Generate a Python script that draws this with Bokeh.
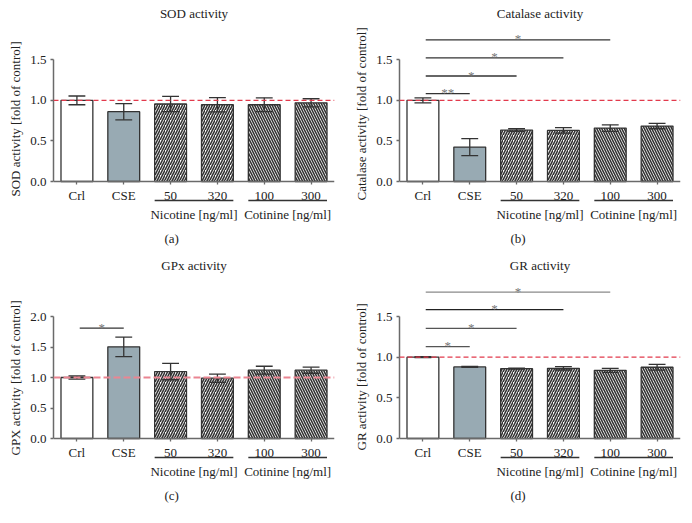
from bokeh.plotting import figure
from bokeh.models import (ColumnDataSource, FixedTicker, LinearAxis, Range1d, Span,
                          Title, NumeralTickFormatter)
from bokeh.layouts import row, column
from bokeh.embed import file_html
from bokeh.resources import INLINE
from bokeh.core.properties import value

# ---------------- data ----------------
categories = ["Crl", "CSE", "50", "320", "100", "300"]
group_labels = ["Nicotine [ng/ml]", "Cotinine [ng/ml]"]
group_members = [[2, 3], [4, 5]]

sod_mean = [1.0, 0.86, 0.955, 0.946, 0.946, 0.97]
sod_err = [0.054, 0.10, 0.095, 0.087, 0.085, 0.05]

cat_mean = [1.0, 0.424, 0.634, 0.63, 0.658, 0.683]
cat_err = [0.03, 0.105, 0.016, 0.035, 0.041, 0.033]
cat_sig_end = [1, 2, 3, 4]
cat_sig_height = [1.082, 1.30, 1.523, 1.745]
cat_sig_text = ["**", "*", "*", "*"]

gpx_mean = [1.0, 1.503, 1.098, 0.989, 1.12, 1.12]
gpx_err = [0.025, 0.16, 0.135, 0.068, 0.065, 0.05]
gpx_sig_end = [1]
gpx_sig_height = [1.809]
gpx_sig_text = ["*"]

gr_mean = [1.0, 0.88, 0.859, 0.863, 0.838, 0.876]
gr_err = [0.006, 0.006, 0.005, 0.021, 0.025, 0.035]
gr_sig_end = [1, 2, 3, 4]
gr_sig_height = [1.129, 1.353, 1.585, 1.80]
gr_sig_text = ["*", "*", "*", "*"]

control_level = 1.0

# ---------------- style ----------------
FONT = "Liberation Serif"
FS = "13px"
TXT = "#222222"
AXC = "#6a6a6a"
fills = ["#ffffff", "#98aab3", "#ffffff", "#ffffff", "#ffffff", "#ffffff"]
hatches = [" ", " ", "/", "/", "\\", "\\"]
BAR_W = 0.68
CAP = 0.18
SIG_START = 0.06


def style_axis(ax):
    ax.axis_line_color = AXC
    ax.axis_line_width = 1.5
    ax.major_tick_line_color = AXC
    ax.major_tick_line_width = 1.3
    ax.major_tick_in = 0
    ax.major_tick_out = 3
    ax.minor_tick_line_color = None
    ax.major_label_text_font = FONT
    ax.major_label_text_font_size = FS
    ax.major_label_text_color = TXT


def text_title(text, align, offset, standoff):
    return Title(text=text, align=align, offset=offset, standoff=standoff,
                 text_font=FONT, text_font_size=FS, text_color=TXT,
                 text_font_style="normal")


def make_panel(title, ylabel, ylabel_offset, means, errs, yticks, ytop, letter,
               frame_h, below_px, border_left, border_right, border_bottom,
               red, sig_end=None, sig_h=None, sig_txt=None, sig_colors=None):
    xs = list(range(len(categories)))
    # the frame spans from below_px pixels under zero up to ytop
    ppu = (frame_h - below_px) / ytop
    ybot = -below_px / ppu
    p = figure(frame_width=281, frame_height=frame_h,
               x_range=Range1d(-0.5, len(categories) - 0.5),
               y_range=Range1d(ybot, ytop),
               x_axis_type=None, y_axis_type=None,
               output_backend="svg", toolbar_location=None,
               min_border_left=border_left, min_border_right=border_right,
               min_border_top=5, min_border_bottom=border_bottom)
    p.outline_line_color = None
    p.background_fill_color = "white"
    p.border_fill_color = "white"

    p.title.text = title
    p.title.text_font = FONT
    p.title.text_font_size = FS
    p.title.text_font_style = "normal"
    p.title.text_color = TXT
    p.title.align = "center"
    p.title.vertical_align = "top"
    p.title.standoff = 10

    # y axis
    yax = LinearAxis(ticker=FixedTicker(ticks=yticks),
                     formatter=NumeralTickFormatter(format="0.0"),
                     bounds=(yticks[0], yticks[-1]))
    style_axis(yax)
    yax.major_label_standoff = 4
    p.add_layout(yax, "left")
    p.add_layout(text_title(ylabel, "left", ylabel_offset, 10), "left")

    # x axis with category labels, drawn at y = 0
    xax = LinearAxis(ticker=FixedTicker(ticks=xs), fixed_location=0,
                     major_label_overrides={i: c for i, c in enumerate(categories)})
    style_axis(xax)
    xax.major_label_standoff = 3
    p.add_layout(xax, "below")

    # group labels axis
    gcent = [sum(m) / len(m) for m in group_members]
    gax = LinearAxis(ticker=FixedTicker(ticks=gcent), fixed_location=-22 / ppu,
                     major_label_overrides={c: l for c, l in zip(gcent, group_labels)})
    style_axis(gax)
    gax.axis_line_color = None
    gax.major_tick_line_color = None
    gax.major_tick_out = 0
    gax.major_label_standoff = 3
    p.add_layout(gax, "below")

    # underlines under group labels
    usrc = ColumnDataSource(dict(
        x0=[min(m) - BAR_W / 2 for m in group_members],
        x1=[max(m) + BAR_W / 2 for m in group_members],
        y=[-19 / ppu] * len(group_members)))
    p.segment(x0="x0", y0="y", x1="x1", y1="y", source=usrc,
              line_color="#333333", line_width=1.3)

    # panel letter
    p.add_layout(text_title(letter, "left", 111, 5), "below")

    # bars
    src = ColumnDataSource(dict(x=xs, top=means, fill=fills, hatch=hatches,
                                lo=[m - e for m, e in zip(means, errs)],
                                hi=[m + e for m, e in zip(means, errs)],
                                xl=[x - CAP for x in xs], xr=[x + CAP for x in xs]))
    p.vbar(x="x", top="top", width=BAR_W, bottom=0, source=src,
           fill_color="fill", line_color="#333333", line_width=1.3,
           hatch_pattern="hatch", hatch_color="#333333", hatch_scale=5,
           hatch_weight=1.6)
    # error bars
    p.segment(x0="x", y0="lo", x1="x", y1="hi", source=src,
              line_color="#333333", line_width=1.3)
    p.segment(x0="xl", y0="hi", x1="xr", y1="hi", source=src,
              line_color="#333333", line_width=1.3)
    p.segment(x0="xl", y0="lo", x1="xr", y1="lo", source=src,
              line_color="#333333", line_width=1.3)

    # control reference line
    p.add_layout(Span(location=control_level, dimension="width",
                      line_color=red[0], line_dash=red[1], line_width=red[2]))

    # significance brackets
    if sig_end:
        cols = sig_colors or ["#333333"] * len(sig_end)
        ssrc = ColumnDataSource(dict(
            x0=[SIG_START] * len(sig_end), x1=sig_end, y=sig_h, t=sig_txt,
            xc=[(SIG_START + e) / 2 for e in sig_end], c=cols))
        p.segment(x0="x0", y0="y", x1="x1", y1="y", source=ssrc,
                  line_color="c", line_width=1.3)
        p.text(x="xc", y="y", text="t", source=ssrc, text_font=value(FONT),
               text_font_size=FS, text_color="#777777", text_align="center",
               text_baseline="alphabetic", y_offset=-1)
    return p


red_std = ("#e23a4c", "5 3", 1.4)
red_c = ("#ea8592", "7 3", 2.0)

TOP = dict(frame_h=199, below_px=45, border_bottom=26)
BOT = dict(frame_h=204, below_px=45, border_bottom=30)

pa = make_panel("SOD activity", "SOD activity [fold of control]", 30, sod_mean, sod_err,
                [0, 0.5, 1.0, 1.5], 1.898, "(a)", border_left=49, border_right=9,
                red=red_std, **TOP)
pb = make_panel("Catalase activity", "Catalase activity [fold of control]", 26, cat_mean,
                cat_err, [0, 0.5, 1.0, 1.5], 1.898, "(b)", border_left=56, border_right=1,
                red=red_std, sig_end=cat_sig_end, sig_h=cat_sig_height,
                sig_txt=cat_sig_text, **TOP)
pc = make_panel("GPx activity", "GPX activity [fold of control]", 28, gpx_mean, gpx_err,
                [0, 0.5, 1.0, 1.5, 2.0], 2.607, "(c)", border_left=49, border_right=9,
                red=red_c, sig_end=gpx_sig_end, sig_h=gpx_sig_height,
                sig_txt=gpx_sig_text, **BOT)
pd = make_panel("GR activity", "GR activity [fold of control]", 33, gr_mean, gr_err,
                [0, 0.5, 1.0, 1.5], 1.955, "(d)", border_left=56, border_right=1,
                red=red_std, sig_end=gr_sig_end, sig_h=gr_sig_height,
                sig_txt=gr_sig_text,
                sig_colors=["#555555", "#555555", "#222222", "#8a8a8a"], **BOT)

layout = column(row(pa, pb), row(pc, pd))
open("out.html", "w").write(file_html(layout, INLINE))
